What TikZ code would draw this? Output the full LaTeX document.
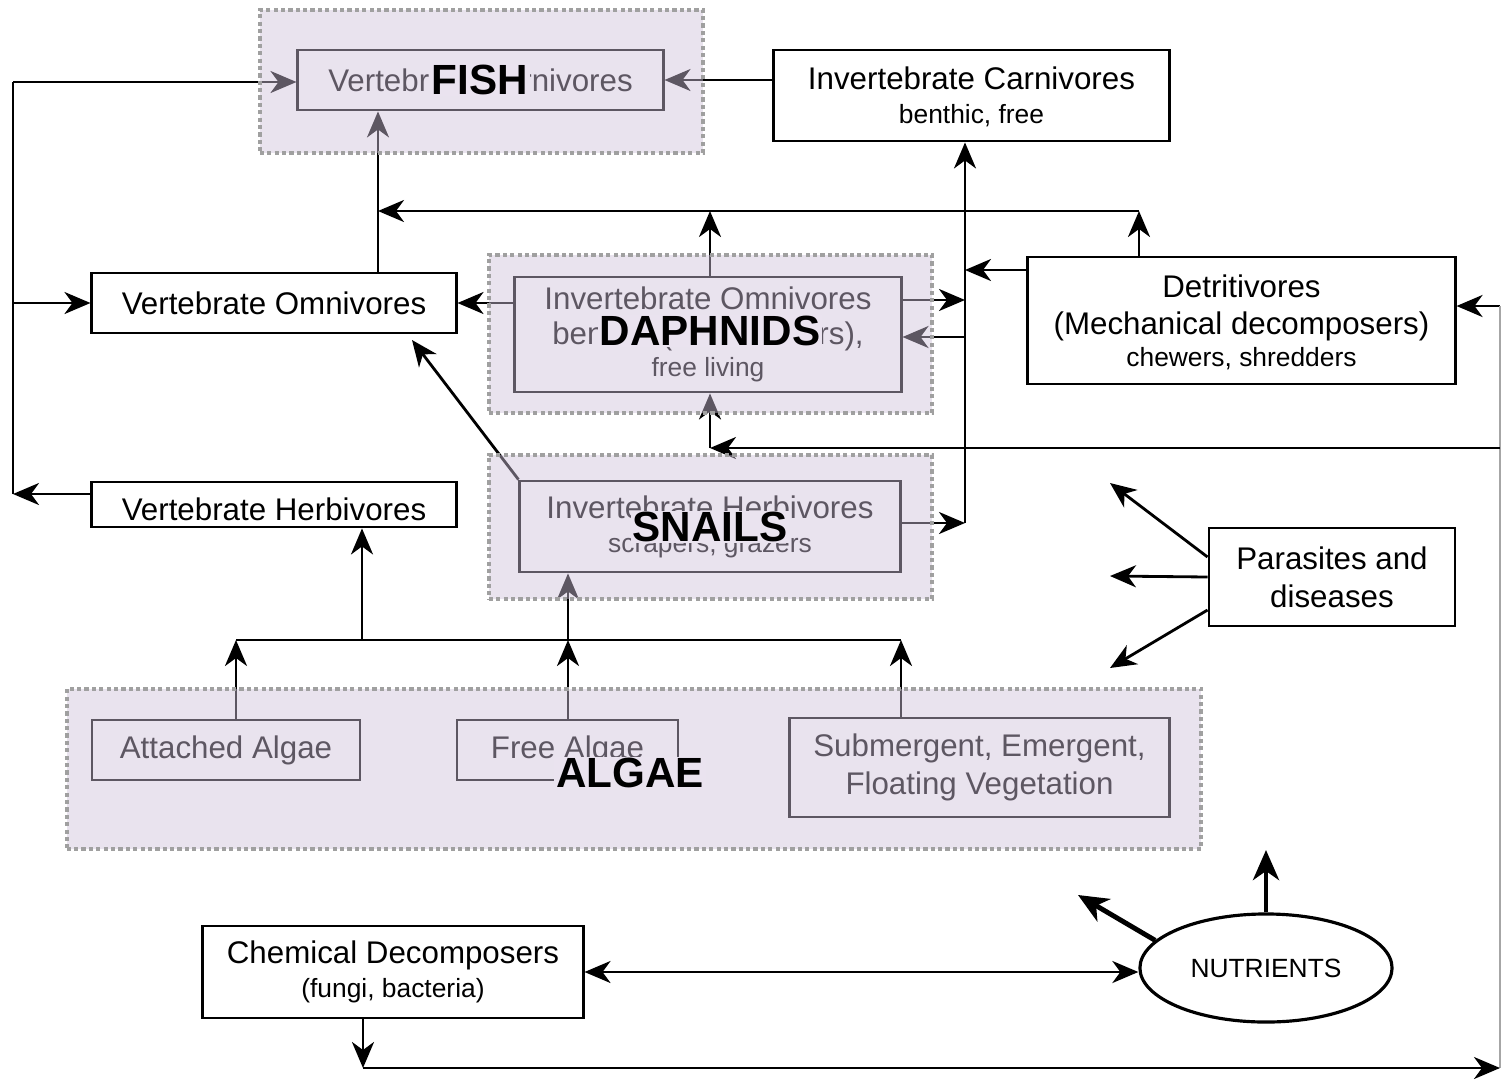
\documentclass[tikz,border=0pt]{standalone}
\usepackage{fontspec}
\setmainfont{Liberation Sans}
\usetikzlibrary{arrows.meta,shapes.geometric}
\definecolor{grpover}{RGB}{208,193,219}
\definecolor{grpbg}{RGB}{234,227,239}
\definecolor{dotgray}{RGB}{160,160,160}
\newcommand{\subf}{\fontsize{7.5}{10}\selectfont}
\tikzset{
  box/.style={draw, line width=0.8pt, inner sep=0pt, align=center, font=\fontsize{8.9}{10.5}\selectfont},
  conn/.style={line width=0.8pt},
  arr/.style={line width=0.8pt, -{Stealth[length=2.6mm, width=2.2mm, inset=0.8mm]}},
  darr/.style={line width=0.8pt, {Stealth[length=2.6mm, width=2.2mm, inset=0.8mm]}-{Stealth[length=2.6mm, width=2.2mm, inset=0.8mm]}},
  thickarr/.style={line width=1.4pt, -{Stealth[length=3mm, width=2.6mm, inset=0.9mm]}},
  grp/.style={draw=dotgray, line width=1.1pt, dash pattern=on 1.2pt off 0.9pt, fill=grpover, fill opacity=0.45, inner sep=0pt},
  lbl/.style={fill=grpbg, inner xsep=0.6pt, inner ysep=0.3pt, font=\fontsize{12}{12}\selectfont\bfseries}
}
\begin{document}
\begin{tikzpicture}[x=0.01cm, y=-0.01cm]
\useasboundingbox (0,0) rectangle (1502,1081);
\fill[white] (0,0) rectangle (1502,1081);

% boxes
\node[box, minimum width=3.65cm, minimum height=0.6cm] (fishbox) at (480.5,80) {Vertebrate Carnivores};
\node[box, minimum width=3.95cm, minimum height=0.91cm, text depth=0pt] (ic) at (971.5,95.5) {Invertebrate Carnivores\\[-0.85pt]{\subf benthic, free}};
\node[box, minimum width=3.64cm, minimum height=0.6cm] (vo) at (274,303) {Vertebrate Omnivores};
\node[box, minimum width=3.64cm, minimum height=0.45cm, text height=9.2pt, text depth=0pt] (vh) at (274,504.5) {Vertebrate Herbivores};
\node[box, minimum width=3.86cm, minimum height=1.15cm] (io) at (708,334.5) {Invertebrate Omnivores\\[-0.6pt]benthic (filter feeders),\\[-1.4pt]{\subf free living}};
\node[box, minimum width=3.8cm, minimum height=0.91cm] (ih) at (710,526.5) {Invertebrate Herbivores\\[-0.85pt]{\subf scrapers, grazers}};
\node[box, minimum width=4.27cm, minimum height=1.27cm, text depth=0pt] (det) at (1241.5,320.5) {Detritivores\\(Mechanical decomposers)\\[-1.4pt]{\subf chewers, shredders}};
\node[box, minimum width=2.46cm, minimum height=0.98cm] (par) at (1332,577) {Parasites and\\[0.4pt]diseases};
\node[box, minimum width=2.68cm, minimum height=0.6cm] (att) at (226,750) {Attached Algae};
\node[box, minimum width=2.21cm, minimum height=0.6cm] (free) at (567.5,750) {Free Algae};
\node[box, minimum width=3.79cm, minimum height=0.99cm] (sub) at (979.5,767.5) {Submergent, Emergent,\\[0.4pt]Floating Vegetation};
\node[box, minimum width=3.8cm, minimum height=0.92cm] (chem) at (393,972) {Chemical Decomposers\\[-0.85pt]{\subf (fungi, bacteria)}};
\node[draw, ellipse, line width=0.9pt, minimum width=2.52cm, minimum height=1.08cm, inner sep=0pt, font=\fontsize{7.5}{9}\selectfont] (nut) at (1266,968) {NUTRIENTS};

% junction coordinates
\coordinate (busT) at (13,82);
\coordinate (busB) at (13,494);
\coordinate (j1) at (378,211);
\coordinate (j2) at (1139,211);
\coordinate (j3) at (710,211);
\coordinate (vx) at (965,523);
\coordinate (j4) at (965,270);
\coordinate (j5) at (965,300);
\coordinate (j6) at (965,337);
\coordinate (j7) at (412,340);
\coordinate (r1) at (1500,306);
\coordinate (r2) at (1500,1068);
\coordinate (r3) at (363,1068);
\coordinate (r4) at (1500,448);
\coordinate (r5) at (710,448);
\coordinate (n1) at (1078,895);
\coordinate (n2) at (1266,850);
\coordinate (p1) at (1110,483);
\coordinate (p2) at (1110,576);
\coordinate (p3) at (1110,668);
\coordinate (a1) at (236,640);
\coordinate (a2) at (568,640);
\coordinate (a3) at (901,640);
\coordinate (a4) at (362,640);

% left bus
\draw[conn] (busB) -- (busT);
\draw[arr] (busT) -- (busT -| fishbox.west);
\draw[arr] (busT |- vo.west) -- (vo.west);
\draw[arr] (busB -| vh.west) -- (busB);

% into fish
\draw[arr] (fishbox.east -| ic.west) -- (fishbox.east);
\draw[arr] (j1 |- vo.north) -- (j1 |- fishbox.south);
\draw[arr] (j2 |- det.north) -- (j2);
\draw[arr] (j2) -- (j1);
\draw[arr] (j3 |- io.north) -- (j3);

% vertical to invertebrate carnivores
\draw[arr] (vx) -- (vx |- ic.south);
\draw[arr] (j4 -| det.west) -- (j4);
\draw[arr] (j5 -| io.east) -- (j5);
\draw[arr] (j6) -- (j6 -| io.east);
\draw[arr] (vx -| ih.east) -- (vx);

% into vertebrate omnivores
\draw[arr] (vo.east -| io.west) -- (vo.east);
\draw[arr] (ih.north west) -- (j7);

% right loop
\draw[arr] (r1) -- (r1 -| det.east);
\draw[conn, black!35] (r1) -- (r2);
\draw[arr] (r4) -- (r5);
\draw[arr] (r5) -- (r5 |- io.south);
\draw[arr] (r3 |- chem.south) -- (r3);
\draw[arr] (r3) -- (r2);

% nutrients
\draw[darr] (chem.east) -- (chem.east -| nut.west);
\draw[thickarr] (nut.166) -- (n1);
\draw[thickarr] (nut.north) -- (n2);

% parasites
\draw[arr] ([yshift=0.2cm]par.west) -- (p1);
\draw[arr] (par.west) -- (p2);
\draw[arr] ([yshift=-0.33cm]par.west) -- (p3);

% algae
\draw[conn] (a1) -- (a3);
\draw[arr] (a1 |- att.north) -- (a1);
\draw[arr] (a2 |- free.north) -- (a2);
\draw[arr] (a3 |- sub.north) -- (a3);
\draw[arr] (a4) -- (a4 |- vh.south);
\draw[arr] (a2) -- (a2 |- ih.south);

% group overlays
\node[grp, minimum width=4.43cm, minimum height=1.43cm] (gfish) at (481.5,81.5) {};
\node[grp, minimum width=4.43cm, minimum height=1.58cm] (gdaph) at (710.5,334) {};
\node[grp, minimum width=4.43cm, minimum height=1.44cm] (gsnail) at (710.5,527) {};
\node[grp, minimum width=11.34cm, minimum height=1.60cm] (galgae) at (634,769) {};

% group labels
\node[lbl] (lfish) at (480,80) {FISH};
\node[lbl] (ldaph) at (710,331) {DAPHNIDS};
\node[lbl] (lsnail) at (710,527) {SNAILS};
\node[lbl] (lalgae) at (630,773) {ALGAE};
\end{tikzpicture}
\end{document}
